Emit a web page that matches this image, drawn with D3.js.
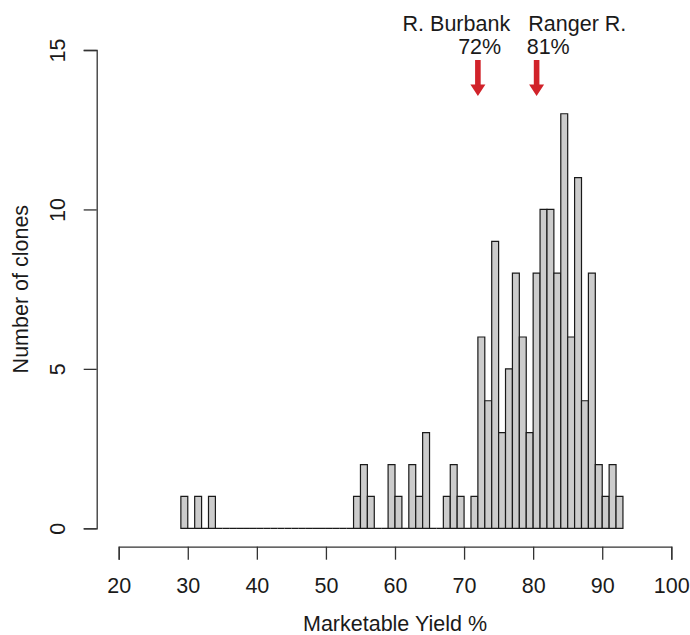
<!DOCTYPE html>
<html>
<head>
<meta charset="utf-8">
<script src="https://cdn.jsdelivr.net/npm/d3@7"></script>
<style>
  body { margin: 0; background: #fff; }
  text { font-family: "Liberation Sans", Arial, Helvetica, sans-serif; fill: #1a1a1a; }
</style>
</head>
<body>
<div id="chart"></div>
<script>
const width = 690, height = 635;
const fontSize = "21.5px";

// histogram bins of width 1, first bin starts at 29
const binStart = 29;
const counts = [1,0,1,0,1,
    0,0,0,0,0,0,0,0,0,0,0,0,0,0,0,0,0,0,0,0,
    1,2,1,0,0,2,1,0,2,1,
    3,0,0,1,2,1,0,1,6,4,
    9,3,5,8,6,3,8,10,10,8,
    13,6,11,4,8,2,1,2,1];

const xTicks = [20, 30, 40, 50, 60, 70, 80, 90, 100];
const yTicks = [0, 5, 10, 15];

const markNames = ["R. Burbank", "Ranger R."];
const markValues = [72, 80.5];
const markLabels = ["72%", "81%"];

const x = d3.scaleLinear().domain([20, 100]).range([118.7, 671.3]);
const y = d3.scaleLinear().domain([0, 15]).range([528.3, 50]);

const svg = d3.select("#chart")
    .append("svg")
    .attr("width", width)
    .attr("height", height);

const bins = counts.map((c, i) => ({ x0: binStart + i, x1: binStart + i + 1, n: c }));

// bars drawn as paths so empty bins still show as a line on the baseline
svg.append("g")
    .selectAll("path")
    .data(bins)
    .join("path")
    .attr("d", d => `M${x(d.x0)},${y(0)}V${y(d.n)}H${x(d.x1)}V${y(0)}Z`)
    .attr("fill", "#cccccc")
    .attr("stroke", "#1a1a1a")
    .attr("stroke-width", 1.2);

// x axis
const xAxis = svg.append("g")
    .attr("transform", "translate(0,546.7)")
    .call(d3.axisBottom(x).tickValues(xTicks).tickSizeOuter(0).tickSize(13).tickPadding(18.3));
xAxis.selectAll("path, line").attr("stroke", "#333").attr("stroke-width", 1.3);
xAxis.selectAll("text").style("font-size", fontSize)
    .style("font-family", '"Liberation Sans", Arial, sans-serif').attr("fill", "#1a1a1a");

// y axis, labels parallel to the axis like R
const yAxis = svg.append("g")
    .attr("transform", "translate(96.7,0)")
    .call(d3.axisLeft(y).tickValues(yTicks).tickSizeOuter(0).tickSize(13));
yAxis.selectAll("path, line").attr("stroke", "#333").attr("stroke-width", 1.3);
yAxis.selectAll("text")
    .attr("x", null).attr("dy", null).attr("y", 0)
    .attr("text-anchor", "middle")
    .attr("transform", "translate(-31.7,0) rotate(-90)")
    .style("font-size", fontSize)
    .style("font-family", '"Liberation Sans", Arial, sans-serif').attr("fill", "#1a1a1a");

// axis titles
svg.append("text")
    .attr("x", (x(20) + x(100)) / 2)
    .attr("y", 631)
    .attr("text-anchor", "middle")
    .style("font-size", fontSize)
    .text("Marketable Yield %");

svg.append("text")
    .attr("transform", `translate(27.5,${(y(0) + y(15)) / 2}) rotate(-90)`)
    .attr("text-anchor", "middle")
    .style("font-size", fontSize)
    .text("Number of clones");

// arrows for the two check varieties
const arrows = svg.append("g")
    .selectAll("g")
    .data(markValues)
    .join("g")
    .attr("transform", d => `translate(${x(d)},0)`);

arrows.append("path")
    .attr("d", "M-2.8,60V84.5H-7.5L0,96L7.5,84.5H2.8V60Z")
    .attr("fill", "#d1232a");

svg.append("text")
    .attr("x", x(markValues[0]) - 21.5).attr("y", 31)
    .attr("text-anchor", "middle").style("font-size", fontSize)
    .text(markNames[0]);
svg.append("text")
    .attr("x", x(markValues[0]) + 1.8).attr("y", 54.3)
    .attr("text-anchor", "middle").style("font-size", fontSize)
    .text(markLabels[0]);
svg.append("text")
    .attr("x", x(markValues[1]) - 8.3).attr("y", 31)
    .attr("text-anchor", "start").style("font-size", fontSize)
    .text(markNames[1]);
svg.append("text")
    .attr("x", x(markValues[1]) - 9.9).attr("y", 54.3)
    .attr("text-anchor", "start").style("font-size", fontSize)
    .text(markLabels[1]);
</script>
</body>
</html>
